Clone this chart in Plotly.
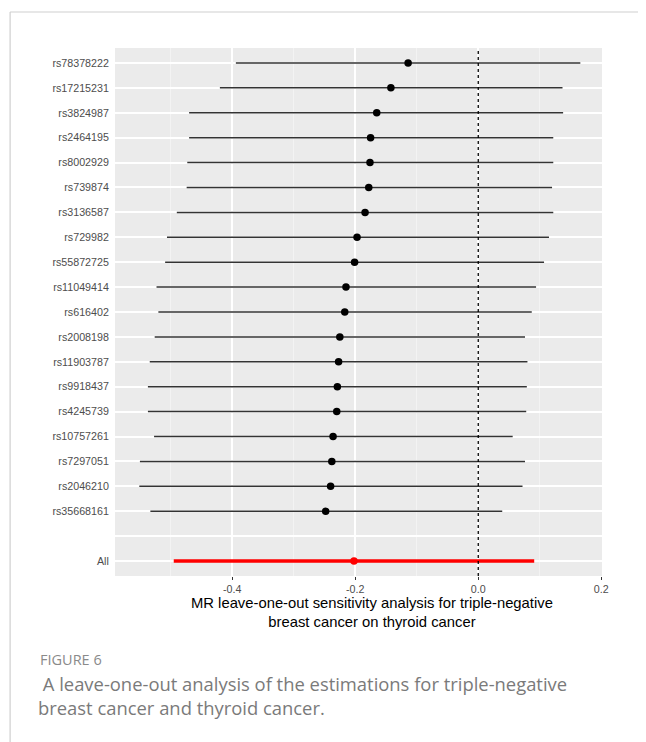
import plotly.graph_objects as go

# ---------------- data ----------------
snps = ["rs78378222", "rs17215231", "rs3824987", "rs2464195", "rs8002929",
        "rs739874", "rs3136587", "rs729982", "rs55872725", "rs11049414",
        "rs616402", "rs2008198", "rs11903787", "rs9918437", "rs4245739",
        "rs10757261", "rs7297051", "rs2046210", "rs35668161"]
beta = [-0.114, -0.142, -0.165, -0.175, -0.176, -0.178, -0.184, -0.197, -0.201,
        -0.215, -0.217, -0.225, -0.227, -0.229, -0.230, -0.236, -0.238, -0.240, -0.248]
ci_low = [-0.394, -0.420, -0.470, -0.470, -0.473, -0.474, -0.490, -0.506, -0.509,
          -0.523, -0.520, -0.526, -0.534, -0.537, -0.537, -0.527, -0.550, -0.551, -0.533]
ci_high = [0.166, 0.137, 0.138, 0.122, 0.122, 0.120, 0.122, 0.115, 0.107,
           0.094, 0.087, 0.076, 0.080, 0.079, 0.078, 0.056, 0.076, 0.072, 0.039]
all_label = "All"
all_beta = -0.202
all_low = -0.495
all_high = 0.091

x_ticks = [-0.4, -0.2, 0.0, 0.2]
x_tick_labels = ["-0.4", "-0.2", "0.0", "0.2"]
null_effect = 0.0

x_title = "MR leave-one-out sensitivity analysis for triple-negative<br>breast cancer on thyroid cancer"
fig_label = "FIGURE 6"
caption = "&nbsp;A leave-one-out analysis of the estimations for triple-negative<br>breast cancer and thyroid cancer."

# row positions: All at 0, blank separator row at 1, SNPs above (last SNP lowest)
n = len(snps)
all_row = 0
separator_row = 1
snp_rows = [separator_row + n - i for i in range(n)]

# ---------------- figure ----------------
OFF = 8  # default page body margin
W, H = 646 - OFF, 742 - OFF
L, T = 115 - OFF, 48 - OFF
R = W - (602.5 - OFF)
B = H - (576 - OFF)
pw, ph = W - L - R, H - T - B

def px(xp):
    return (xp - OFF - L) / pw

def py(yp):
    return (H - B - (yp - OFF)) / ph

fig = go.Figure()

fig.add_trace(go.Scatter(
    x=beta, y=snp_rows, mode="markers",
    marker=dict(color="black", size=7.5),
    error_x=dict(type="data", symmetric=False,
                 array=[h - b for h, b in zip(ci_high, beta)],
                 arrayminus=[b - l for b, l in zip(beta, ci_low)],
                 color="#333333", thickness=1.5, width=0),
    showlegend=False, hoverinfo="skip"))

fig.add_trace(go.Scatter(
    x=[all_beta], y=[all_row], mode="markers",
    marker=dict(color="#FF0000", size=7.5),
    error_x=dict(type="data", symmetric=False,
                 array=[all_high - all_beta], arrayminus=[all_beta - all_low],
                 color="#FF0000", thickness=3.6, width=0),
    showlegend=False, hoverinfo="skip"))

shapes = [
    # dotted null line
    dict(type="line", xref="x", yref="paper", x0=null_effect, x1=null_effect, y0=0, y1=1,
         line=dict(color="black", width=1.3, dash="dot"), layer="above"),
    # separator line between SNPs and All
    dict(type="line", xref="paper", yref="y", x0=0, x1=1, y0=separator_row, y1=separator_row,
         line=dict(color="#BEBEBE", width=1.5), layer="below"),
    # outer frame lines of the figure box
    dict(type="line", xref="paper", yref="paper", x0=px(10), x1=px(10), y0=py(12), y1=py(742),
         line=dict(color="#CFCFCF", width=1.2)),
    dict(type="line", xref="paper", yref="paper", x0=px(10), x1=px(660), y0=py(12), y1=py(12),
         line=dict(color="#CFCFCF", width=1.2)),
]

annotations = [
    dict(text=x_title, xref="paper", yref="paper", x=px(372), y=py(593), xanchor="center",
         yanchor="top", showarrow=False, align="center",
         font=dict(family="Liberation Sans, Arial", size=14.8, color="black")),
    dict(text=fig_label, xref="paper", yref="paper", x=px(38), y=py(659), xanchor="left",
         yanchor="middle", showarrow=False, align="left",
         font=dict(family="Open Sans", size=14.5, color="#8a8a8a")),
    dict(text=caption, xref="paper", yref="paper", x=px(36), y=py(669), xanchor="left",
         yanchor="top", showarrow=False, align="left",
         font=dict(family="Open Sans", size=18.4, color="#7a7a7a")),
]

fig.update_layout(
    width=W, height=H,
    margin=dict(l=L, r=R, t=T, b=B, pad=0),
    paper_bgcolor="white", plot_bgcolor="#EBEBEB",
    shapes=shapes, annotations=annotations,
    font=dict(family="Liberation Sans, Arial"),
)

fig.update_xaxes(
    range=[-0.5905, 0.2012],
    tickvals=x_ticks, ticktext=x_tick_labels,
    showgrid=True, gridcolor="white", gridwidth=1.5,
    minor=dict(tickvals=[-0.5, -0.3, -0.1, 0.1], showgrid=True, gridcolor="#F3F3F3", gridwidth=0.7,
               ticks=""),
    zeroline=False, showline=False,
    ticks="outside", ticklen=3, tickcolor="#333333", tickwidth=1,
    tickfont=dict(size=10.7, color="#4D4D4D", family="Liberation Sans, Arial"),
)

fig.update_yaxes(
    range=[-0.6, n + 1.6],
    tickvals=[all_row, separator_row] + snp_rows,
    ticktext=[all_label, ""] + snps,
    showgrid=True, gridcolor="white", gridwidth=1.5,
    zeroline=False, showline=False,
    ticks="outside", ticklen=3, tickcolor="rgba(0,0,0,0)", tickwidth=1,
    tickfont=dict(size=10.7, color="#4D4D4D", family="Liberation Sans, Arial"),
)

fig.write_html("out.html")
